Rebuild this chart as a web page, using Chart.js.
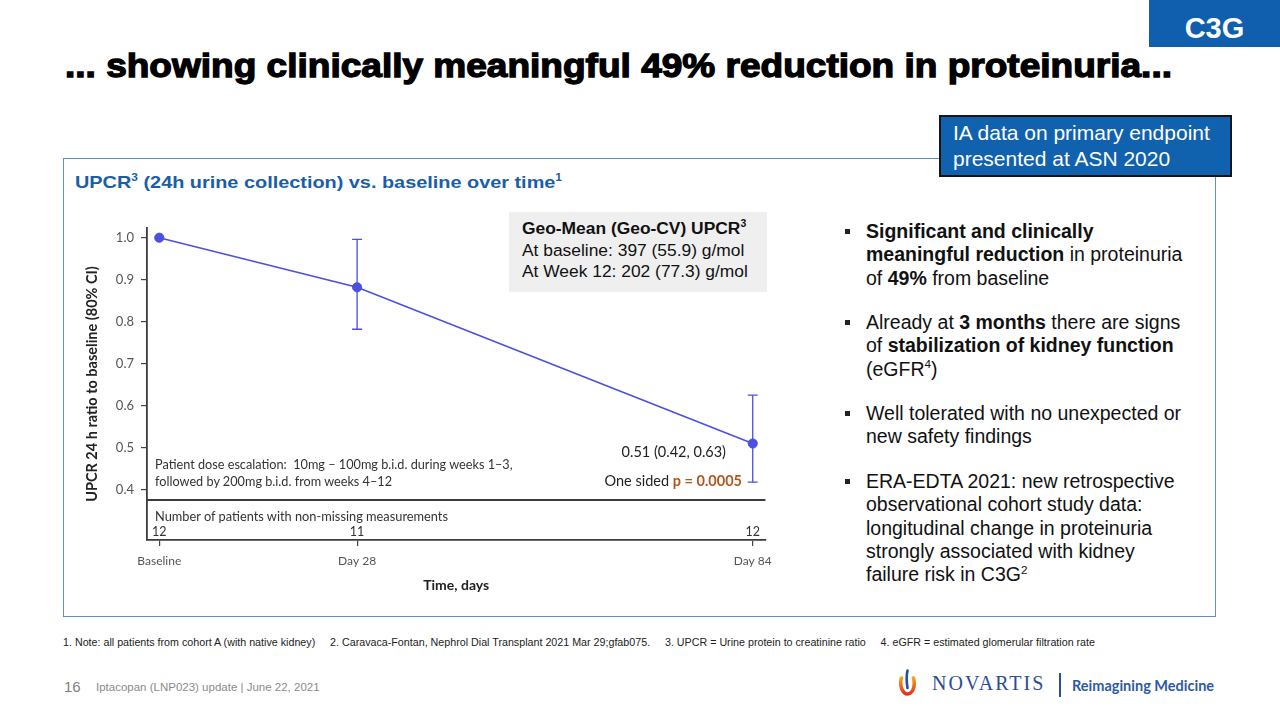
<!DOCTYPE html>
<html><head><meta charset="utf-8">
<script src="https://cdn.jsdelivr.net/npm/chart.js@4.4.1/dist/chart.umd.min.js"></script>
<style>
html,body{margin:0;padding:0;background:#fff;}
body{width:1280px;height:720px;position:relative;overflow:hidden;font-family:"Liberation Sans",Arial,sans-serif;color:#1a1a1a;}
.abs{position:absolute;white-space:nowrap;}
sup{font-size:60%;vertical-align:baseline;position:relative;top:-0.65em;line-height:0;}
.cal{font-family:Lato,"Open Sans",sans-serif;}
.para{position:absolute;left:866px;font-size:19.5px;line-height:23.3px;white-space:nowrap;color:#111;}
.bul{position:absolute;left:845px;width:5px;height:5px;background:#222;}
</style></head><body>

<!-- C3G tag -->
<div class="abs" style="left:1149px;top:0;width:131px;height:47px;background:#0f5fae;"></div>
<div class="abs" style="left:1149px;top:11px;width:131px;text-align:center;font-size:29px;line-height:34px;font-weight:bold;color:#fff;">C3G</div>

<!-- Title -->
<div id="title" class="abs" style="left:65px;top:49px;font-size:33px;line-height:33px;font-weight:bold;color:#000;-webkit-text-stroke:1.3px #000;transform-origin:0 0;" data-fit="1107">... showing clinically meaningful 49% reduction in proteinuria...</div>

<!-- Panel -->
<div class="abs" style="left:63px;top:158px;width:1153px;height:459px;border:1px solid #5b8fcf;box-sizing:border-box;"></div>
<div class="abs" style="left:75px;top:172px;font-size:17px;line-height:22px;font-weight:bold;color:#1a5ea8;transform-origin:0 0;" data-fit="487">UPCR<sup>3</sup> (24h urine collection) vs. baseline over time<sup>1</sup></div>

<!-- IA box -->
<div class="abs" style="left:939px;top:115px;width:293px;height:62px;background:#1062ae;border:2px solid #151515;box-sizing:border-box;"></div>
<div class="abs" style="left:953px;top:120px;font-size:21px;line-height:26px;color:#fff;">IA data on primary endpoint<br>presented at ASN 2020</div>

<!-- Chart -->
<div class="abs" style="left:60px;top:200px;width:720px;height:400px;"><canvas id="c" width="720" height="400"></canvas></div>

<!-- Geo-mean box -->
<div class="abs" style="left:509px;top:212px;width:258px;height:80px;background:#efefef;"></div>
<div class="abs" style="left:522px;top:218px;font-size:17.4px;line-height:21.5px;color:#111;"><b>Geo-Mean (Geo-CV) UPCR<sup>3</sup></b><br>At baseline: 397 (55.9) g/mol<br>At Week 12: 202 (77.3) g/mol</div>

<!-- in-chart annotations -->
<div class="abs cal" style="left:155px;top:456px;font-size:12.7px;line-height:16.7px;color:#333;">Patient dose escalation:&nbsp; 10mg – 100mg b.i.d. during weeks 1–3,<br>followed by 200mg b.i.d. from weeks 4–12</div>
<div class="abs cal" style="left:155px;top:508px;font-size:12.8px;line-height:16px;color:#333;">Number of patients with non-missing measurements</div>
<div class="abs cal" style="right:554px;top:443px;font-size:14.5px;line-height:18px;color:#222;text-align:right;">0.51 (0.42, 0.63)</div>
<div class="abs cal" style="right:538px;top:472px;font-size:14.5px;line-height:18px;color:#222;text-align:right;">One sided <b style="color:#b0561c;">p = 0.0005</b></div>

<!-- bullets -->
<div class="bul" style="top:229px;"></div>
<div class="para" style="top:220px;"><b>Significant and clinically</b><br><b>meaningful reduction</b> in proteinuria<br>of <b>49%</b> from baseline</div>
<div class="bul" style="top:320px;"></div>
<div class="para" style="top:311px;">Already at <b>3 months</b> there are signs<br>of <b>stabilization of kidney function</b><br>(eGFR<sup>4</sup>)</div>
<div class="bul" style="top:411px;"></div>
<div class="para" style="top:402px;">Well tolerated with no unexpected or<br>new safety findings</div>
<div class="bul" style="top:479px;"></div>
<div class="para" style="top:470px;">ERA-EDTA 2021: new retrospective<br>observational cohort study data:<br>longitudinal change in proteinuria<br>strongly associated with kidney<br>failure risk in C3G<sup>2</sup></div>

<!-- footnotes -->
<div class="abs" style="left:63px;top:636px;font-size:10px;line-height:14px;color:#222;transform-origin:0 0;" data-fit="1032">1. Note: all patients from cohort A (with native kidney)&nbsp;&nbsp;&nbsp;&nbsp; 2. Caravaca-Fontan, Nephrol Dial Transplant 2021 Mar 29;gfab075.&nbsp;&nbsp;&nbsp;&nbsp; 3. UPCR = Urine protein to creatinine ratio&nbsp;&nbsp;&nbsp;&nbsp; 4. eGFR = estimated glomerular filtration rate</div>

<div class="abs" style="left:64px;top:678px;font-size:15px;line-height:18px;color:#7f7f7f;">16</div>
<div class="abs" style="left:96px;top:680px;font-size:11.5px;line-height:15px;color:#8a8a8a;">Iptacopan (LNP023) update | June 22, 2021</div>

<!-- logo -->
<svg class="abs" style="left:898px;top:669px;" width="20" height="27" viewBox="0 0 20 27">
 <defs><linearGradient id="fg" x1="0" y1="0" x2="0" y2="1"><stop offset="0" stop-color="#f5a21d"/><stop offset="1" stop-color="#e2341d"/></linearGradient></defs>
 <path d="M3.5 9 C1 17, 5 25, 9.5 25 C14 25, 18 18, 15.5 9" stroke="url(#fg)" stroke-width="3.6" fill="none" stroke-linecap="round"/>
 <path d="M9.5 1.5 C8.5 6, 8.5 13, 9.5 19" stroke="#2a4e9e" stroke-width="2.6" fill="none" stroke-linecap="round"/>
</svg>
<div class="abs" style="left:932px;top:671px;font-family:'Liberation Serif','DejaVu Serif',serif;font-size:20px;line-height:24px;letter-spacing:2px;color:#2b4c98;">NOVARTIS</div>
<div class="abs" style="left:1059px;top:673px;width:1.5px;height:24px;background:#2b4c98;"></div>
<div class="abs cal" style="left:1072px;top:677px;font-size:14.5px;line-height:18px;font-weight:bold;color:#2f5aa3;">Reimagining Medicine</div>

<script>
// ---- data ----
const DAYS = [0, 28, 84];
const X_LABELS = ['Baseline', 'Day 28', 'Day 84'];
const UPCR_RATIO = [1.0, 0.882, 0.51];
const CI_LOW = [null, 0.782, 0.418];
const CI_HIGH = [null, 0.996, 0.625];
const N_PATIENTS = [12, 11, 12];
const Y_TICKS = [0.4, 0.5, 0.6, 0.7, 0.8, 0.9, 1.0];

// fit texts
document.querySelectorAll('[data-fit]').forEach(el => {
  const w = el.getBoundingClientRect().width;
  const t = parseFloat(el.dataset.fit);
  el.style.transform = 'scaleX(' + (t / w) + ')';
});

const BLUE = '#4b4fe3';
const datasets = [{
  data: DAYS.map((d, i) => ({x: d, y: UPCR_RATIO[i]})),
  borderColor: BLUE, backgroundColor: BLUE, borderWidth: 1.6,
  pointRadius: 4.6, pointBorderWidth: 1, pointBackgroundColor: BLUE, pointBorderColor: BLUE,
  tension: 0
}];
DAYS.forEach((d, i) => {
  if (CI_LOW[i] == null) return;
  datasets.push({
    data: [{x: d, y: CI_LOW[i]}, {x: d, y: CI_HIGH[i]}],
    borderColor: BLUE, borderWidth: 1.3,
    pointStyle: 'line', pointRadius: 5, pointBorderWidth: 1.3, pointBorderColor: BLUE, pointBackgroundColor: BLUE
  });
});

const tablePlugin = {
  id: 'table',
  afterDatasetsDraw(chart) {
    const {ctx, chartArea: a, scales: {x}} = chart;
    const yDiv = a.bottom - 40;
    ctx.save();
    ctx.strokeStyle = '#3c3c3c'; ctx.lineWidth = 1.8;
    ctx.beginPath(); ctx.moveTo(a.left, yDiv); ctx.lineTo(a.right, yDiv); ctx.stroke();
    ctx.font = '12.5px Lato'; ctx.fillStyle = '#333'; ctx.textAlign = 'center'; ctx.textBaseline = 'middle';
    DAYS.forEach((d, i) => ctx.fillText(String(N_PATIENTS[i]), x.getPixelForValue(d), a.bottom - 8.5));
    ctx.restore();
  }
};

new Chart(document.getElementById('c'), {
  type: 'line',
  data: {datasets},
  plugins: [tablePlugin],
  options: {
    responsive: false, animation: false, devicePixelRatio: 1,
    layout: {padding: {top: 28, right: 14, left: 0, bottom: 0}},
    plugins: {legend: {display: false}, tooltip: {enabled: false}},
    scales: {
      x: {
        type: 'linear', min: -1.74, max: 85.8,
        afterBuildTicks: s => { s.ticks = DAYS.map(v => ({value: v})); },
        afterFit: s => { s.height = 60; },
        ticks: {callback: v => X_LABELS[DAYS.indexOf(v)], color: '#555', font: {family: 'Lato', size: 12}, padding: 8, maxRotation: 0, autoSkip: false},
        grid: {drawOnChartArea: false, drawTicks: true, tickLength: 6, color: '#444', lineWidth: 1.2},
        border: {display: true, color: '#3c3c3c', width: 1.8},
        title: {display: true, text: 'Time, days', color: '#222', font: {family: 'Lato', size: 14, weight: 'bold'}, padding: {top: 0, bottom: 6.6}}
      },
      y: {
        type: 'linear', min: 0.2802, max: 1.0231,
        afterBuildTicks: s => { s.ticks = Y_TICKS.map(v => ({value: v})); },
        afterFit: s => { s.width = 87; },
        ticks: {callback: v => v.toFixed(1), color: '#555', font: {family: 'Lato', size: 13}, padding: 7},
        grid: {drawOnChartArea: false, drawTicks: true, tickLength: 6, color: '#444', lineWidth: 1.2},
        border: {display: true, color: '#3c3c3c', width: 1.8},
        title: {display: true, text: 'UPCR 24 h ratio to baseline (80% CI)', color: '#222', font: {family: 'Lato', size: 14.5, weight: 'bold'}, padding: {top: 24, bottom: 0}}
      }
    }
  }
});
</script>
</body></html>
